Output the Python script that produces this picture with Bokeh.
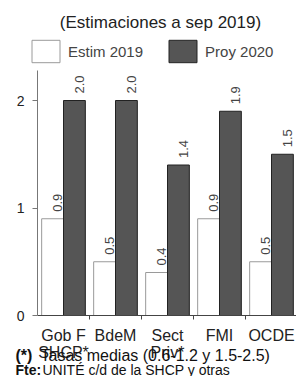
from bokeh.plotting import figure
from bokeh.models import (ColumnDataSource, Range1d, FixedTicker, LabelSet, Label,
                          Legend, LegendItem)
from bokeh.core.properties import value
from bokeh.transform import dodge
from bokeh.embed import file_html
from bokeh.resources import INLINE

# ---- data ----
categories = ["Gob F\nSHCP*", "BdeM", "Sect\nPriv*", "FMI", "OCDE"]
estim_2019 = [0.9, 0.5, 0.4, 0.9, 0.5]
proy_2020 = [2.0, 2.0, 1.4, 1.9, 1.5]
y_ticks = [0, 1, 2]
title_text = "(Estimaciones a sep 2019)"
series_names = ["Estim 2019", "Proy 2020"]
note1_bold, note1_text = "(*)", "Tasas medias (0.6-1.2 y 1.5-2.5)"
note2_bold, note2_text = "Fte:", "UNITÉ c/d de la SHCP y otras"

FONT = "Liberation Sans"
W, H = 296, 376
xs = list(range(len(categories)))
src = ColumnDataSource(dict(
    x=xs, estim=estim_2019, proy=proy_2020,
    estim_lbl=[f"{v:.1f}" for v in estim_2019],
    proy_lbl=[f"{v:.1f}" for v in proy_2020],
))

# frame covers the whole canvas; axes are placed with fixed_location
GROUP_PX = 52.0
AXIS_X_PX = 37.0
ZERO_Y_PX = 315.0
UNIT_PX = 107.5
x0 = -0.5 - AXIS_X_PX / GROUP_PX
x1 = -0.5 + (W - AXIS_X_PX) / GROUP_PX
y0 = -(H - ZERO_Y_PX) / UNIT_PX
y1 = ZERO_Y_PX / UNIT_PX

p = figure(width=W, height=H, output_backend="svg", toolbar_location=None,
           x_range=Range1d(x0, x1), y_range=Range1d(y0, y1), min_border=0)
p.outline_line_color = None
p.grid.visible = False
p.background_fill_color = "white"
p.border_fill_color = "white"

r1 = p.vbar(x=dodge("x", -0.21), top="estim", width=0.42, source=src,
            fill_color="white", line_color="#9a9a9a", line_width=1)
r2 = p.vbar(x=dodge("x", 0.21), top="proy", width=0.42, source=src,
            fill_color="#555555", line_color="#222222", line_width=1)

for col, lbl, dx in (("estim", "estim_lbl", -0.21), ("proy", "proy_lbl", 0.21)):
    p.add_layout(LabelSet(x=dodge("x", dx), y=col, text=lbl, source=src, angle=1.5708,
                          text_align="left", text_baseline="middle", x_offset=5, y_offset=7,
                          text_font=value(FONT), text_font_size=value("13px"),
                          text_color="#444444"))

# axes
yax = p.yaxis[0]
yax.fixed_location = -0.5
yax.ticker = FixedTicker(ticks=y_ticks)
yax.bounds = (0, 2.28)
yax.axis_line_color = "#777777"
yax.major_tick_line_color = "#777777"
yax.major_tick_out = 5
yax.major_tick_in = 0
yax.minor_tick_line_color = None
yax.major_label_standoff = 8
yax.major_label_text_font = FONT
yax.major_label_text_font_size = "14px"
yax.major_label_text_color = "#222222"

xax = p.xaxis[0]
xax.fixed_location = 0
xax.bounds = (-0.5, x1)
xax.ticker = FixedTicker(ticks=xs, minor_ticks=[i + 0.5 for i in xs[:-1]])
xax.major_label_overrides = {i: c for i, c in zip(xs, categories)}
xax.axis_line_color = "#444444"
xax.major_tick_line_color = None
xax.major_tick_out = 0
xax.major_tick_in = 0
xax.minor_tick_line_color = "#444444"
xax.minor_tick_out = 4
xax.minor_tick_in = 0
xax.major_label_standoff = 7
xax.major_label_text_font = FONT
xax.major_label_text_font_size = "16px"
xax.major_label_text_color = "#222222"
xax.major_label_text_line_height = 1.0

# legend
legend = Legend(items=[LegendItem(label=series_names[0], renderers=[r1]),
                       LegendItem(label=series_names[1], renderers=[r2])],
                orientation="horizontal", location=(28, 311), padding=0, margin=0,
                glyph_width=35, glyph_height=28, label_standoff=5, spacing=22,
                label_text_font=FONT, label_text_font_size="15px",
                label_text_baseline="middle", label_height=28,
                background_fill_alpha=0, border_line_alpha=0)
p.add_layout(legend, "center")

# title and notes (screen units from the bottom-left of the canvas)
p.add_layout(Label(x=160, y=H - 22, x_units="screen", y_units="screen", text=title_text,
                   text_align="center", text_baseline="middle", text_font=FONT,
                   text_font_size="17px", text_color="#222222"))
for yy, b, t, fs, tx in ((H - 355, note1_bold, note1_text, "16px", 40),
                         (H - 369, note2_bold, note2_text, "14px", 42)):
    p.add_layout(Label(x=15, y=yy, x_units="screen", y_units="screen", text=b,
                       text_align="left", text_baseline="middle", text_font=FONT,
                       text_font_size=fs, text_font_style="bold", text_color="#111111"))
    p.add_layout(Label(x=tx, y=yy, x_units="screen", y_units="screen", text=t,
                       text_align="left", text_baseline="middle", text_font=FONT,
                       text_font_size=fs, text_color="#111111"))

open("out.html", "w").write(file_html(p, INLINE))
